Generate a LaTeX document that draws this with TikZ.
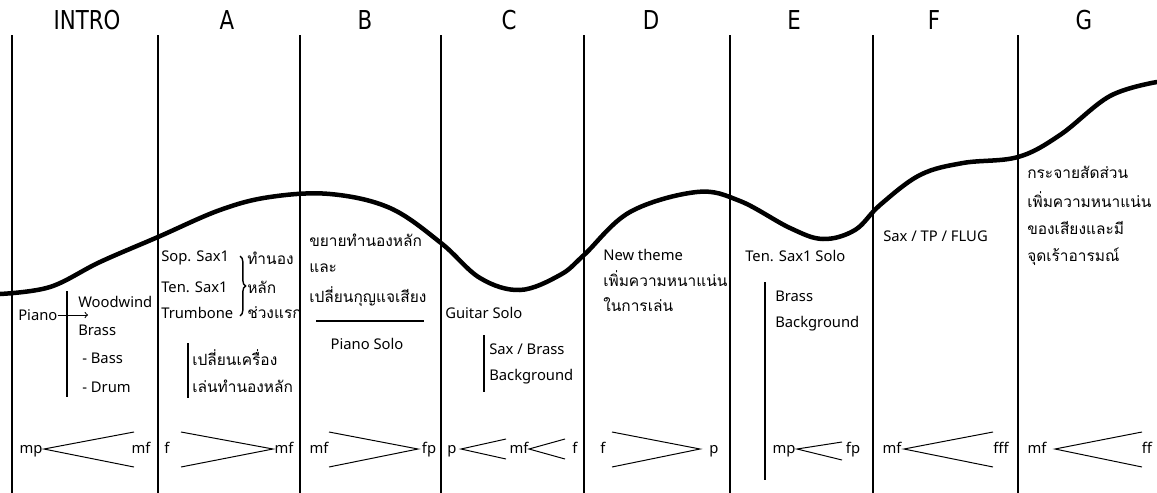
\documentclass[tikz,border=0pt]{standalone}
\usepackage{fontspec}
\setmainfont{Noto Sans}
\newfontfamily\thaifont[Script=Thai]{Loma}
\newfontfamily\headfont{DejaVu Sans}[FakeStretch=0.82]
\usetikzlibrary{decorations.pathreplacing}
\tikzset{
  divline/.style={line width=0.8pt},
  wave/.style={line width=3.2pt, line cap=round},
  bar/.style={line width=2pt},
  hairpin/.style={line width=0.7pt},
  sechead/.style={font=\headfont\fontsize{18.5}{21}\selectfont, inner sep=0pt},
  txt/.style={font=\fontsize{10.5}{12}\selectfont, anchor=west, inner sep=0pt},
  thtxt/.style={txt, font=\thaifont\fontsize{11}{13}\selectfont},
  dyn/.style={font=\fontsize{10.5}{12}\selectfont, inner sep=0pt, anchor=base},
}
\begin{document}
\begin{tikzpicture}[x=0.025cm, y=-0.025cm]
    \useasboundingbox (0,0) rectangle (1157,493);
    % section headers
    \node[sechead] (hintro) at (87,20) {INTRO};
    \node[sechead] (ha) at (227,20) {A};
    \node[sechead] (hb) at (365,20) {B};
    \node[sechead] (hc) at (509,20) {C};
    \node[sechead] (hd) at (651,20) {D};
    \node[sechead] (he) at (794,20) {E};
    \node[sechead] (hf) at (934,20) {F};
    \node[sechead] (hg) at (1084,20) {G};
    % dividers
    \draw[divline] (12,35) -- (12,493);
    \draw[divline] (158,35) -- (158,493);
    \draw[divline] (300,35) -- (300,493);
    \draw[divline] (441,35) -- (441,493);
    \draw[divline] (584,35) -- (584,493);
    \draw[divline] (730,35) -- (730,493);
    \draw[divline] (873,35) -- (873,493);
    \draw[divline] (1018,35) -- (1018,493);
    % intensity curve
    \draw[wave] plot[smooth, tension=0.6] coordinates {(0,294) (50,287) (100,262) (158,237)
      (220,210) (270,197) (330,194) (390,208) (441,243) (480,278) (520,290) (560,275)
      (584,255) (630,212) (697,192) (740,201) (790,228) (823,239) (855,230) (880,205)
      (920,175) (963,163) (1018,157) (1060,135) (1110,96) (1157,82)};
    % INTRO
    \node[txt] (piano) at (18,315) {Piano};
    \coordinate (pianoend) at (88,315);
    \draw[->, line width=0.7pt] (piano) -- (pianoend);
    \draw[bar] (67,291) -- (67,397);
    \node[txt] (woodwind) at (78,302) {Woodwind};
    \node[txt] (brass) at (78,330) {Brass};
    \node[txt] (bass) at (82,358) {- Bass};
    \node[txt] (drum) at (82,387) {- Drum};
    % A
    \node[txt] (sop) at (161,258) {Sop. Sax1};
    \node[txt] (ten) at (161,287) {Ten. Sax1};
    \node[txt] (trb) at (161,313) {Trumbone};
    \draw[decorate, decoration={brace, amplitude=4pt}, line width=1pt] (240,256) -- (240,316);
    \node[thtxt] (tamnong) at (247,258) {ทำนอง};
    \node[thtxt] (lak) at (247,287) {หลัก};
    \node[thtxt] (chuang) at (247,313) {ช่วงแรก};
    \draw[bar] (188,343) -- (188,398);
    \node[thtxt] (change) at (192,358) {เปลี่ยนเครื่อง};
    \node[thtxt] (play) at (192,386) {เล่นทำนองหลัก};
    % B
    \node[thtxt] (expand) at (309,240) {ขยายทำนองหลัก};
    \node[thtxt] (and) at (309,268) {และ};
    \node[thtxt] (key) at (309,297) {เปลี่ยนกุญแจเสียง};
    \draw[bar] (316,321) -- (424,321);
    \node[txt, anchor=center] (psolo) at (367,344) {Piano Solo};
    % C
    \node[txt] (gsolo) at (445,313) {Guitar Solo};
    \draw[bar] (484,335) -- (484,392);
    \node[txt] (saxbrass) at (489,349) {Sax / Brass};
    \node[txt] (bgc) at (489,377) {Background};
    % D
    \node[txt] (newtheme) at (603,255) {New theme};
    \node[thtxt] (dense) at (603,279) {เพิ่มความหนาแน่น};
    \node[thtxt] (inplay) at (603,305) {ในการเล่น};
    % E
    \node[txt] (tsolo) at (745,256) {Ten. Sax1 Solo};
    \draw[bar] (765,282) -- (765,480);
    \node[txt] (brasse) at (775,296) {Brass};
    \node[txt] (bge) at (775,324) {Background};
    % F
    \node[txt] (saxtp) at (883,236) {Sax / TP / FLUG};
    % G
    \node[thtxt] (spread) at (1027,172) {กระจายสัดส่วน};
    \node[thtxt] (denseg) at (1027,200) {เพิ่มความหนาแน่น};
    \node[thtxt] (sound) at (1027,228) {ของเสียงและมี};
    \node[thtxt] (climax) at (1027,257) {จุดเร้าอารมณ์};
    % dynamics
    \node[dyn] (d1a) at (31,453) {mp};
    \node[dyn] (d1b) at (141,453) {mf};
    \draw[hairpin] (134,432) -- (44,449) -- (134,467);
    \node[dyn] (d2a) at (167,453) {f};
    \node[dyn] (d2b) at (284,453) {mf};
    \draw[hairpin] (181,432) -- (273,449) -- (181,467);
    \node[dyn] (d3a) at (319,453) {mf};
    \node[dyn] (d3b) at (429,453) {fp};
    \draw[hairpin] (329,432) -- (418,449) -- (329,467);
    \node[dyn] (d4a) at (452,453) {p};
    \node[dyn] (d4b) at (519,453) {mf};
    \node[dyn] (d4c) at (575,453) {f};
    \draw[hairpin] (506,439) -- (461,449) -- (506,459);
    \draw[hairpin] (565,439) -- (529,449) -- (565,459);
    \node[dyn] (d5a) at (603,453) {f};
    \node[dyn] (d5b) at (714,453) {p};
    \draw[hairpin] (612,432) -- (700,449) -- (612,467);
    \node[dyn] (d6a) at (784,453) {mp};
    \node[dyn] (d6b) at (853,453) {fp};
    \draw[hairpin] (842,442) -- (797,449) -- (842,460);
    \node[dyn] (d7a) at (892,453) {mf};
    \node[dyn] (d7b) at (1001,453) {fff};
    \draw[hairpin] (993,432) -- (904,449) -- (993,467);
    \node[dyn] (d8a) at (1037,453) {mf};
    \node[dyn] (d8b) at (1147,453) {ff};
    \draw[hairpin] (1142,432) -- (1055,449) -- (1142,467);
  \end{tikzpicture}
\end{document}
